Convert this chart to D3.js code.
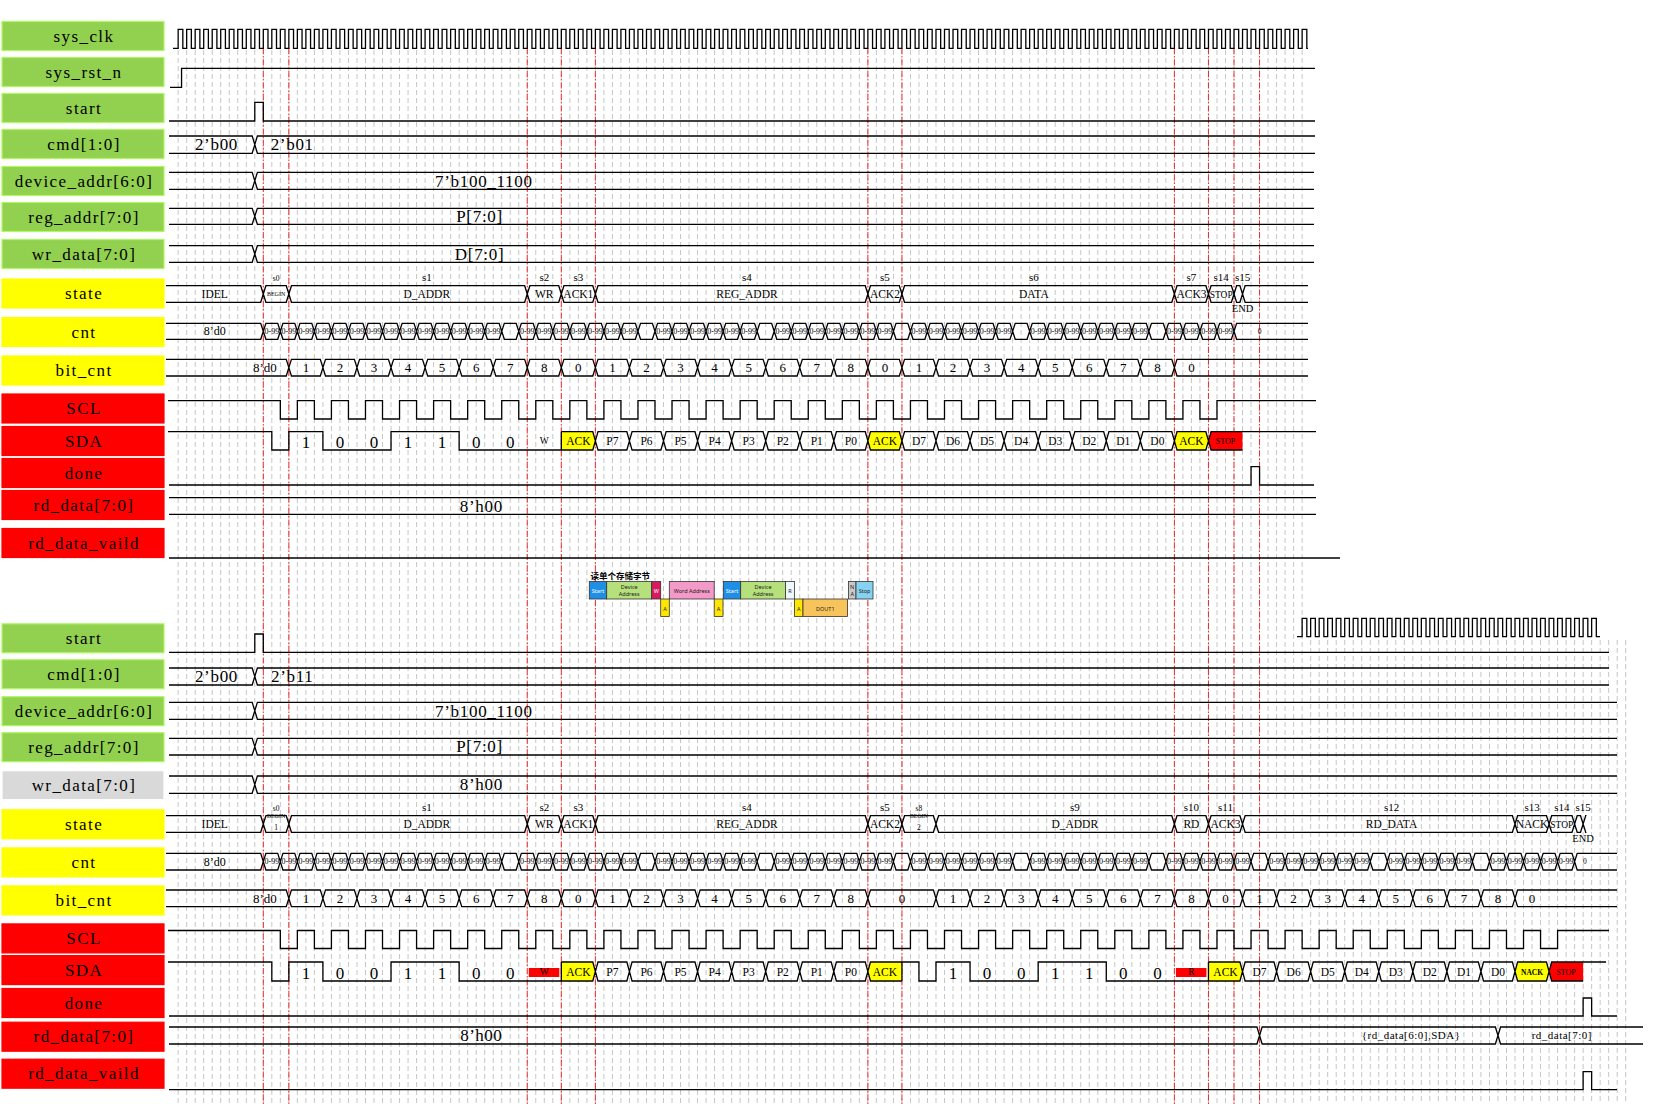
<!DOCTYPE html>
<html>
<head>
<meta charset="utf-8">
<script src="https://cdn.jsdelivr.net/npm/d3@7"></script>
<style>
  body { margin: 0; background: #fff; }
  text { font-family: "Liberation Serif", "DejaVu Serif", serif; fill: #000; }
</style>
</head>
<body>
<svg id="timing" width="1657" height="1104"></svg>
<script>
// ---------- data (time unit = a quarter SCL period, 0 = falling edge of start) ----------
const topLabels = ["sys_clk", "sys_rst_n", "start", "cmd[1:0]", "device_addr[6:0]", "reg_addr[7:0]",
  "wr_data[7:0]", "state", "cnt", "bit_cnt", "SCL", "SDA", "done", "rd_data[7:0]", "rd_data_vaild"];
const bottomLabels = ["start", "cmd[1:0]", "device_addr[6:0]", "reg_addr[7:0]", "wr_data[7:0]",
  "state", "cnt", "bit_cnt", "SCL", "SDA", "done", "rd_data[7:0]", "rd_data_vaild"];

const markers = [0, 3, 31, 35, 39, 71, 75, 107, 111, 114, 117];

const clkTop = [-10, 122];          // first / last sys_clk rising edge
const clkBottom = [122, 156];
const rstRise = -9.6;
const startPulse = [-1, 0];
const busChange = [-1];

const cmdTop = ["2’b00", "2’b01"];
const cmdBottom = ["2’b00", "2’b11"];
const devAddr = ["", "7’b100_1100"];
const regAddr = ["", "P[7:0]"];
const wrTop = ["", "D[7:0]"];
const wrBottom = ["", "8’h00"];
const rdTop = ["8’h00"];
const rdBottomEdges = [117, 145];
const rdBottom = ["8’h00", "{rd_data[6:0],SDA}", "rd_data[7:0]"];

const stateTopEdges = [0, 3, 31, 35, 39, 71, 75, 107, 111, 114, 115];
const stateTopNames = ["IDEL", "BEGIN", "D_ADDR", "WR", "ACK1", "REG_ADDR", "ACK2", "DATA", "ACK3", "STOP", "END", ""];
const stateTopIds = ["", "s0", "s1", "s2", "s3", "s4", "s5", "s6", "s7", "s14", "s15", ""];
const stateBottomEdges = [0, 3, 31, 35, 39, 71, 75, 79, 107, 111, 115, 147, 151, 154, 155];
const stateBottomNames = ["IDEL", "BEGIN\n1", "D_ADDR", "WR", "ACK1", "REG_ADDR", "ACK2", "BEGIN\n2", "D_ADDR",
  "RD", "ACK3", "RD_DATA", "NACK", "STOP", "END", ""];
const stateBottomIds = ["", "s0", "s1", "s2", "s3", "s4", "s5", "s8", "s9", "s10", "s11", "s12", "s13", "s14", "s15", ""];

const cntTopEdges = [0, 2, 4, 6, 8, 10, 12, 14, 16, 18, 20, 22, 24, 26, 28, 30, 32, 34, 36, 38, 40, 42, 44, 46,
  48, 50, 52, 54, 56, 58, 60, 62, 64, 66, 68, 70, 72, 74, 76, 78, 80, 82, 84, 86, 88, 90, 92, 94, 96, 98,
  100, 102, 104, 106, 108, 110, 112, 114];
const cntTopBlank = [28, 44, 58, 74, 88, 104];
const cntBottomEdges = [0, 2, 4, 6, 8, 10, 12, 14, 16, 18, 20, 22, 24, 26, 28, 30, 32, 34, 36, 38, 40, 42, 44, 46,
  48, 50, 52, 54, 56, 58, 60, 62, 64, 66, 68, 70, 72, 74, 76, 78, 80, 82, 84, 86, 88, 90, 92, 94, 96, 98,
  100, 102, 104, 106, 108, 110, 112, 114, 116, 118, 120, 122, 124, 126, 128, 130, 132, 134, 136, 138, 140,
  142, 144, 146, 148, 150, 152, 154];
const cntBottomBlank = [28, 44, 58, 74, 88, 104, 116, 130, 142];

const bitTopEdges = [3, 7, 11, 15, 19, 23, 27, 31, 35, 39, 43, 47, 51, 55, 59, 63, 67, 71, 75, 79, 83, 87, 91,
  95, 99, 103, 107];
const bitTopVals = ["8’d0", "1", "2", "3", "4", "5", "6", "7", "8", "0", "1", "2", "3", "4", "5", "6", "7", "8",
  "0", "1", "2", "3", "4", "5", "6", "7", "8", "0"];
const bitBottomEdges = [3, 7, 11, 15, 19, 23, 27, 31, 35, 39, 43, 47, 51, 55, 59, 63, 67, 71, 79, 83, 87, 91,
  95, 99, 103, 107, 111, 115, 119, 123, 127, 131, 135, 139, 143, 147];
const bitBottomVals = ["8’d0", "1", "2", "3", "4", "5", "6", "7", "8", "0", "1", "2", "3", "4", "5", "6", "7", "8",
  "0", "1", "2", "3", "4", "5", "6", "7", "8", "0", "1", "2", "3", "4", "5", "6", "7", "8", "0"];

const sclTop = [2, 4, 6, 8, 10, 12, 14, 16, 18, 20, 22, 24, 26, 28, 30, 32, 34, 36, 38, 40, 42, 44, 46, 48, 50,
  52, 54, 56, 58, 60, 62, 64, 66, 68, 70, 72, 74, 76, 78, 80, 82, 84, 86, 88, 90, 92, 94, 96, 98, 100, 102,
  104, 106, 108, 110, 112];
const sclBottom = [2, 4, 6, 8, 10, 12, 14, 16, 18, 20, 22, 24, 26, 28, 30, 32, 34, 36, 38, 40, 42, 44, 46, 48,
  50, 52, 54, 56, 58, 60, 62, 64, 66, 68, 70, 72, 74, 76, 78, 80, 82, 84, 86, 88, 90, 92, 94, 96, 98, 100,
  102, 104, 106, 108, 110, 112, 114, 116, 118, 120, 122, 124, 126, 128, 130, 132, 134, 136, 138, 140, 142,
  144, 146, 148, 150, 152];

const sdaTopEdges = [1, 3, 7, 11, 15, 19, 23, 27, 31, 35, 39, 43, 47, 51, 55, 59, 63, 67, 71, 75, 79, 83, 87,
  91, 95, 99, 103, 107, 111, 115];
const sdaTopVals = ["H", "L", "1", "0", "0", "1", "1", "0", "0", "W", "ACK", "P7", "P6", "P5", "P4", "P3", "P2",
  "P1", "P0", "ACK", "D7", "D6", "D5", "D4", "D3", "D2", "D1", "D0", "ACK", "STOP", "H"];
const sdaBottomEdges = [1, 3, 7, 11, 15, 19, 23, 27, 31, 35, 39, 43, 47, 51, 55, 59, 63, 67, 71, 75, 77, 79,
  83, 87, 91, 95, 99, 103, 107, 111, 115, 119, 123, 127, 131, 135, 139, 143, 147, 151, 155];
const sdaBottomVals = ["H", "L", "1", "0", "0", "1", "1", "0", "0", "W", "ACK", "P7", "P6", "P5", "P4", "P3",
  "P2", "P1", "P0", "ACK", "H", "L", "1", "0", "0", "1", "1", "0", "0", "R", "ACK", "D7", "D6", "D5", "D4",
  "D3", "D2", "D1", "D0", "NACK", "STOP", "H"];

const doneTop = [116, 117];
const doneBottom = [155, 156];
const vaildBottom = [155, 156];

// ---------- layout ----------
const GREEN = "#92d050", YELLOW = "#ffff00", RED = "#ff0000", GREY = "#d9d9d9";
const svg = d3.select("#timing");
const x = d3.scaleLinear().domain([0, 100]).range([263.3, 1114.8]);

const topLabelY = [36, 72, 108, 144, 181, 217, 254, 293.5, 332, 370.5, 408.5, 441, 473, 505, 543];
const topLabelFill = [GREEN, GREEN, GREEN, GREEN, GREEN, GREEN, GREEN, YELLOW, YELLOW, YELLOW, RED, RED, RED, RED, RED];
const bottomLabelY = [638.3, 674.2, 711.2, 747.2, 785.2, 824.3, 862.4, 900.4, 938.4, 970.1, 1003, 1036.7, 1073.7];
const bottomLabelFill = [GREEN, GREEN, GREEN, GREEN, GREY, YELLOW, YELLOW, YELLOW, RED, RED, RED, RED, RED];

const stateTopTextT = [null, 1.5, 19.2, 33, 37, 56.8, 73, 90.5, 109, 112.5, 115, null];
const stateBottomTextT = [null, 1.5, 19.2, 33, 37, 56.8, 73, 77, 95.3, 109, 113, 132.5, 149, 152.5, 155, null];

// ---------- helpers ----------
function txt(g, tx, ty, s, size, o = {}) {
  const t = g.append("text").attr("x", tx).attr("y", ty)
    .attr("text-anchor", o.anchor || "middle").attr("font-size", size).text(s);
  if (o.ls) t.style("letter-spacing", o.ls + "px");
  if (o.bold) t.attr("font-weight", "bold");
  if (o.family) t.style("font-family", o.family);
  if (o.fill) t.style("fill", o.fill);
  return t;
}

function stroke(g, d, w) {
  return g.append("path").attr("d", d).attr("fill", "none")
    .attr("stroke", "#000").attr("stroke-width", w || 1.3);
}

// single bit wave: starts at level0, flips at every toggle time
function levelWave(toggles, level0, y0, y1, xa, xb) {
  const g = svg.append("g");
  const p = d3.path();
  let lv = level0;
  p.moveTo(xa, lv ? y0 : y1);
  toggles.forEach(t => {
    p.lineTo(x(t), lv ? y0 : y1);
    lv = !lv;
    p.lineTo(x(t), lv ? y0 : y1);
  });
  p.lineTo(xb, lv ? y0 : y1);
  stroke(g, p.toString());
  return g;
}

function busPoly(s, y0, y1, mid, d) {
  const pts = [];
  if (s.lt) pts.push([s.a, mid], [s.a + d, y0]); else pts.push([s.a, y0]);
  if (s.rt) pts.push([s.b - d, y0], [s.b, mid], [s.b - d, y1]); else pts.push([s.b, y0], [s.b, y1]);
  if (s.lt) pts.push([s.a + d, y1]); else pts.push([s.a, y1]);
  return "M" + pts.join("L") + "Z";
}

function busEdges(p, s, y0, y1, mid, d) {
  [y0, y1].forEach(yy => {
    if (s.lt) { p.moveTo(s.a, mid); p.lineTo(s.a + d, yy); } else p.moveTo(s.a, yy);
    if (s.rt) { p.lineTo(s.b - d, yy); p.lineTo(s.b, mid); } else p.lineTo(s.b, yy);
  });
}

// multi-bit bus row
function busRow(edges, vals, y0, y1, xa, xb, o = {}) {
  const g = svg.append("g");
  const mid = (y0 + y1) / 2, d = 2.6, n = vals.length;
  const segs = vals.map((v, i) => ({
    v, i,
    a: i === 0 ? xa : x(edges[i - 1]),
    b: i === n - 1 ? xb : x(edges[i]),
    lt: i > 0, rt: i < n - 1
  }));
  const p = d3.path();
  segs.forEach(s => busEdges(p, s, y0, y1, mid, d));
  stroke(g, p.toString());
  segs.forEach(s => {
    if (!s.v) return;
    const tx = o.textX ? o.textX(s) : (s.a + s.b) / 2;
    const size = o.size ? o.size(s) : 13;
    txt(g, tx, mid + size * 0.34, s.v, size, { ls: o.ls, anchor: o.anchor ? o.anchor(s) : "middle" });
  });
  return g;
}

function stateRow(edges, names, ids, textT, y0, y1, xa, xb) {
  const g = busRow(edges, names.map(() => ""), y0, y1, xa, xb);
  const mid = (y0 + y1) / 2;
  names.forEach((nm, i) => {
    if (!nm) return;
    const tx = textT[i] === null ? (xa + x(edges[0])) / 2 : x(textT[i]);
    const span = i > 0 && i < edges.length ? edges[i] - edges[i - 1] : 99;
    const begin = nm.startsWith("BEGIN");
    if (nm === "END") {
      txt(g, tx, y1 + 10, nm, 10.5);
    } else if (begin) {
      const parts = nm.split("\n");
      if (parts.length === 1) txt(g, tx, mid + 2, parts[0], 6);
      else { txt(g, tx, y0 + 2.5, parts[0], 6); txt(g, tx, y1 - 2, parts[1], 7.5); }
    } else {
      txt(g, tx, mid + 4, nm, span <= 3 ? 9.5 : 11.5);
    }
    if (ids[i]) txt(g, tx, y0 - 4.5, ids[i], begin ? 7.5 : 11);
  });
}

function cntRow(edges, blanks, y0, y1, xa, xb, lastOff) {
  const vals = ["8’d0"];
  for (let i = 0; i < edges.length - 1; i++) vals.push(blanks.includes(edges[i]) ? "" : "0-99");
  vals.push("0");
  const n = vals.length;
  busRow(edges, vals, y0, y1, xa, xb, {
    size: s => s.i === 0 ? 12 : (s.i === n - 1 ? 7.5 : 8),
    textX: s => s.i === n - 1 ? x(edges[edges.length - 1] + lastOff) : (s.a + s.b) / 2
  });
}

function bitRow(edges, vals, y0, y1, xa, xb) {
  const n = vals.length;
  busRow(edges, vals, y0, y1, xa, xb, {
    size: () => 13,
    anchor: s => s.i === 0 ? "end" : "middle",
    textX: s => s.i === 0 ? x(edges[0]) - 12 : (s.i === n - 1 ? x(edges[n - 2] + 2) : (s.a + s.b) / 2)
  });
}

function sdaRow(edges, vals, y0, y1, xa, xb, rwBar) {
  const g = svg.append("g");
  const mid = (y0 + y1) / 2, d = 2.6, n = vals.length;
  const level = v => (v === "H" || v === "1") ? 1 : (v === "L" || v === "0" || v === "W" || v === "R") ? 0 : null;
  const segs = vals.map((v, i) => ({
    v, i, level: level(v),
    a: i === 0 ? xa : x(edges[i - 1]),
    b: i === n - 1 ? xb : x(edges[i])
  }));
  segs.forEach((s, i) => {
    s.lt = i > 0 && segs[i - 1].level === null;
    s.rt = i < n - 1 && segs[i + 1].level === null;
  });
  segs.filter(s => s.level === null).forEach(s => {
    const f = s.v === "STOP" ? RED : (s.v === "ACK" || s.v === "NACK") ? YELLOW : null;
    if (f) g.append("path").attr("d", busPoly(s, y0, y1, mid, d)).attr("fill", f);
  });
  if (rwBar) {
    segs.filter(s => s.v === "W" || s.v === "R").forEach(s => {
      g.append("rect").attr("x", s.a + 1.5).attr("y", y0 + 6).attr("width", s.b - s.a - 3.5)
        .attr("height", (y1 - y0) - 10).attr("fill", RED);
    });
  }
  const p = d3.path();
  let open = false;
  segs.forEach((s, i) => {
    if (s.level !== null) {
      const yy = s.level ? y0 : y1;
      if (open) p.lineTo(s.a, yy); else p.moveTo(s.a, yy);
      p.lineTo(s.b, yy);
      open = true;
    } else {
      open = false;
      busEdges(p, s, y0, y1, mid, d);
      if (!s.lt && i > 0) { p.moveTo(s.a, y0); p.lineTo(s.a, y1); }
      if (!s.rt && i < n - 1 && s.v !== "STOP") { p.moveTo(s.b, y0); p.lineTo(s.b, y1); }
    }
  });
  stroke(g, p.toString());
  segs.forEach(s => {
    const cx = (s.a + s.b) / 2;
    if (s.v === "1" || s.v === "0") txt(g, cx, mid + 7, s.v, 17);
    else if (s.v === "W" || s.v === "R") txt(g, cx, mid + 3.5, s.v, 9.5);
    else if (s.v === "NACK") txt(g, cx, mid + 3, s.v, 7.5, { bold: true });
    else if (s.v === "STOP") txt(g, cx, mid + 3, s.v, 8);
    else if (s.level === null) txt(g, cx, mid + 4, s.v, 11.5);
  });
}

function clockWave(span, y0, y1, xa, xb) {
  const toggles = [];
  d3.range(span[0], span[1] + 1).forEach(k => toggles.push(k, k + 0.55));
  levelWave(toggles, 0, y0, y1, xa, xb);
}

function labelColumn(labels, ys, fills) {
  const g = svg.append("g");
  labels.forEach((l, i) => {
    g.append("rect").attr("x", 2).attr("y", ys[i] - 14.5).attr("width", 162).attr("height", 29)
      .attr("fill", fills[i]).attr("stroke", d3.color(fills[i]).brighter(0.5)).attr("stroke-width", 1.2);
    txt(g, 84, ys[i] + 5.5, l, 17, { ls: 1.4 });
  });
}

// ---------- background grid and guides ----------
const grid = svg.append("g");
grid.selectAll("line.ga").data(d3.range(-10, 123)).join("line").attr("class", "ga")
  .attr("x1", d => x(d)).attr("x2", d => x(d)).attr("y1", 50).attr("y2", 1104);
grid.selectAll("line.gb").data(d3.range(123, 161)).join("line").attr("class", "gb")
  .attr("x1", d => x(d)).attr("x2", d => x(d)).attr("y1", 640).attr("y2", 1104);
grid.selectAll("line").attr("stroke", "#c6c6c6").attr("stroke-width", 1).attr("stroke-dasharray", "5,3");

svg.append("g").selectAll("line").data(markers).join("line")
  .attr("x1", d => x(d)).attr("x2", d => x(d)).attr("y1", 48).attr("y2", 1104)
  .attr("stroke", "#ee2a2a").attr("stroke-width", 1).attr("stroke-dasharray", "6,2,1.5,2");

// ---------- top diagram: write ----------
labelColumn(topLabels, topLabelY, topLabelFill);
clockWave(clkTop, 29.3, 48.3, 173, 1308);
levelWave([rstRise], 0, 68.3, 87.3, 170, 1315);
levelWave(startPulse, 0, 102.3, 121, 169, 1315);
busRow(busChange, cmdTop, 136, 153.3, 169, 1315, {
  size: () => 17, ls: 0.7, textX: s => s.i === 0 ? x(-5.5) : x(3.4) });
busRow(busChange, devAddr, 172.3, 189.3, 169, 1314, { size: () => 17, ls: 0.7, textX: () => x(25.9) });
busRow(busChange, regAddr, 208.3, 224.3, 169, 1314, { size: () => 17, ls: 0.7, textX: () => x(25.4) });
busRow(busChange, wrTop, 245.7, 262.3, 169, 1314, { size: () => 17, ls: 0.7, textX: () => x(25.4) });
stateRow(stateTopEdges, stateTopNames, stateTopIds, stateTopTextT, 285.7, 302.3, 166, 1308);
cntRow(cntTopEdges, cntTopBlank, 323.3, 339.3, 166, 1308, 3);
bitRow(bitTopEdges, bitTopVals, 359.3, 376, 166, 1308);
levelWave(sclTop, 1, 400.7, 419, 168, 1316);
sdaRow(sdaTopEdges, sdaTopVals, 431.7, 450, 168, 1316, false);
levelWave(doneTop, 0, 466.7, 485, 169, 1314);
busRow([], rdTop, 497.7, 514.3, 169, 1316, { size: () => 17, ls: 0.7, textX: () => x(25.6) });
levelWave([], 0, 540, 558, 169, 1340);

// ---------- inset: single byte read frame ----------
const inset = svg.append("g");
txt(inset, 590.5, 579, "读单个存储字节", 8.5, { anchor: "start", bold: true, family: "Noto Sans CJK SC" });
const insetBoxes = [
  [589.3, 606.7, 0, "#1f8fe5", ["Start"]], [606.7, 651.7, 0, "#b5e07c", ["Device", "Address"]],
  [651.7, 660.7, 0, "#d81b60", ["W"]], [660.7, 669.3, 1, "#ffe600", ["A"]],
  [669.3, 714.2, 0, "#f39ac8", ["Word Address"]], [714.2, 723, 1, "#ffe600", ["A"]],
  [723.3, 740.7, 0, "#1f8fe5", ["Start"]], [740.7, 785.5, 0, "#b5e07c", ["Device", "Address"]],
  [785.5, 794.5, 0, "#eef7fb", ["R"]], [794.5, 803, 1, "#ffe600", ["A"]],
  [803, 847.6, 1, "#f7c45c", ["DOUT1"]], [848.4, 856, 0, "#c9c9c9", ["N", "A"]],
  [856, 873, 0, "#86d2f2", ["Stop"]]
];
insetBoxes.forEach(b => {
  const yTop = b[2] ? 599 : 581.5;
  inset.append("rect").attr("x", b[0]).attr("y", yTop).attr("width", b[1] - b[0]).attr("height", 17.5)
    .attr("fill", b[3]).attr("stroke", "#333").attr("stroke-width", 0.8);
  const cx = (b[0] + b[1]) / 2;
  b[4].forEach((line, k) => {
    const yy = yTop + (b[4].length === 1 ? 11.5 : 7.5 + k * 7);
    txt(inset, cx, yy, line, 5.5, { family: "Noto Sans", fill: b[3] === "#1f8fe5" || b[3] === "#d81b60" ? "#fff" : "#222" });
  });
});

// ---------- bottom diagram: read ----------
labelColumn(bottomLabels, bottomLabelY, bottomLabelFill);
clockWave(clkBottom, 618.3, 636.7, 1297, 1600);
levelWave(startPulse, 0, 634, 652.3, 169, 1609);
busRow(busChange, cmdBottom, 668, 685, 169, 1609, {
  size: () => 17, ls: 0.7, textX: s => s.i === 0 ? x(-5.5) : x(3.4) });
busRow(busChange, devAddr, 702.3, 719.3, 169, 1617, { size: () => 17, ls: 0.7, textX: () => x(25.9) });
busRow(busChange, regAddr, 738.3, 755, 169, 1617, { size: () => 17, ls: 0.7, textX: () => x(25.4) });
busRow(busChange, wrBottom, 776, 793.3, 169, 1617, { size: () => 17, ls: 0.7, textX: () => x(25.6) });
stateRow(stateBottomEdges, stateBottomNames, stateBottomIds, stateBottomTextT, 815.7, 832.3, 166, 1585);
cntRow(cntBottomEdges, cntBottomBlank, 853.3, 870, 166, 1617, 1.2);
bitRow(bitBottomEdges, bitBottomVals, 890, 906.7, 166, 1617);
levelWave(sclBottom, 1, 930.5, 948.5, 168, 1609);
sdaRow(sdaBottomEdges, sdaBottomVals, 962, 981, 168, 1606, true);
levelWave(doneBottom, 0, 998, 1016, 169, 1617);
busRow(rdBottomEdges, rdBottom, 1027, 1044, 169, 1643, {
  size: s => s.i === 0 ? 17 : 11, ls: 0.5,
  textX: s => [x(25.6), x(134.8), x(152.5)][s.i] });
levelWave(vaildBottom, 0, 1071.6, 1089.6, 169, 1617);
</script>
</body>
</html>
